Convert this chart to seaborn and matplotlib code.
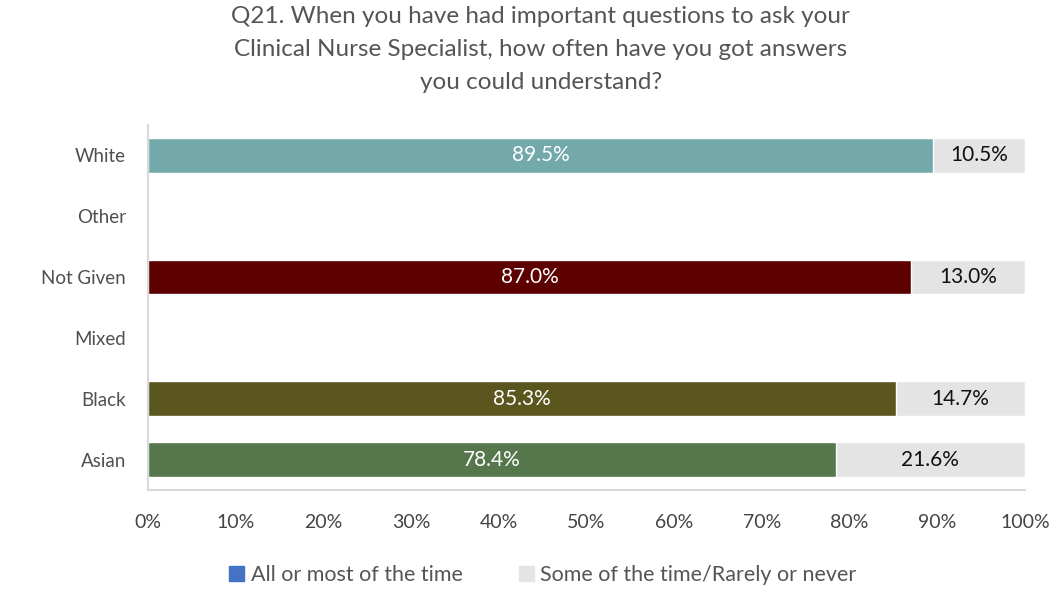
import numpy as np
import pandas as pd
import matplotlib
matplotlib.use("Agg")
import matplotlib.pyplot as plt
import seaborn as sns
from matplotlib.patches import Patch
from matplotlib.ticker import PercentFormatter

# data
groups = ["White", "Other", "Not Given", "Mixed", "Black", "Asian"]
all_or_most = [89.5, np.nan, 87.0, np.nan, 85.3, 78.4]
some_or_rarely = [10.5, np.nan, 13.0, np.nan, 14.7, 21.6]
bar_colors = ["#74A9AB", "#74A9AB", "#5C0000", "#5C0000", "#5B561E", "#56764B"]
legend_labels = ["All or most of the time", "Some of the time/Rarely or never"]
title = ("Q21. When you have had important questions to ask your\n"
         "Clinical Nurse Specialist, how often have you got answers\n"
         "you could understand?")

df = pd.DataFrame({"group": groups, "main": all_or_most, "rest": some_or_rarely})
df["total"] = df["main"] + df["rest"]

sns.set_theme(style="white")
plt.rcParams["font.family"] = ["Lato", "DejaVu Sans"]

fig = plt.figure(figsize=(10.56, 5.9), dpi=100)
ax = fig.add_axes([0.1402, 0.1695, 0.8304, 0.6185])

# grey full-length bar first, coloured part drawn over it
sns.barplot(data=df, x="total", y="group", order=groups, color="#E4E4E4",
            saturation=1, width=0.57, ax=ax, orient="h")
sns.barplot(data=df, x="main", y="group", order=groups, hue="group",
            palette=dict(zip(groups, bar_colors)), legend=False, saturation=1,
            width=0.57, ax=ax, orient="h")

for i, row in df.iterrows():
    if np.isnan(row["main"]):
        continue
    ax.text(row["main"] / 2, i, f"{row['main']:.1f}%", ha="center", va="center",
            color="white", fontsize=15)
    ax.text(row["main"] + row["rest"] / 2, i, f"{row['rest']:.1f}%", ha="center",
            va="center", color="#111111", fontsize=15)

ax.set_xlim(0, 100)
ax.set_ylim(5.5, -0.5)
ax.set_xticks(range(0, 101, 10))
ax.xaxis.set_major_formatter(PercentFormatter(decimals=0))
ax.tick_params(axis="x", labelsize=14, colors="#444444", pad=17, length=0)
ax.tick_params(axis="y", labelsize=13.5, colors="#505050", pad=16, length=0)
ax.set_xlabel("")
ax.set_ylabel("")

for side in ["top", "right"]:
    ax.spines[side].set_visible(False)
ax.spines["left"].set_color("#D9D9D9")
ax.spines["left"].set_linewidth(1.5)
ax.spines["bottom"].set_color("#D9D9D9")
ax.spines["bottom"].set_linewidth(1.5)

fig.text(0.512, 0.99, title, ha="center", va="top", fontsize=17.5,
         color="#555555", linespacing=1.7)

handles = [Patch(color="#4472C4"), Patch(color="#E4E4E4")]
fig.legend(handles, legend_labels, loc="center", bbox_to_anchor=(0.514, 0.025),
           ncol=2, frameon=False, fontsize=15.5, handlelength=0.7,
           handleheight=0.7, handletextpad=0.3, columnspacing=2.6,
           labelcolor="#555555")

fig.savefig("out.png", dpi=100)
